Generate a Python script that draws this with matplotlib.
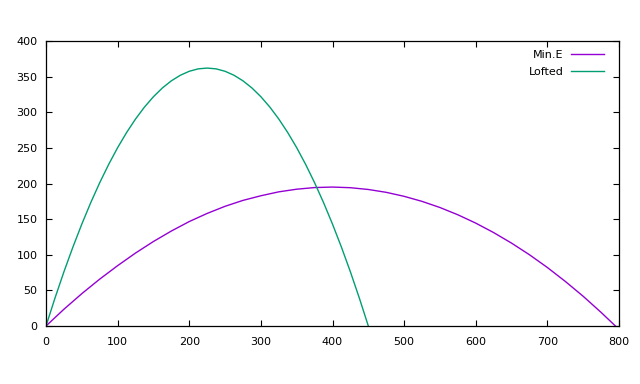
import matplotlib
matplotlib.use("Agg")
import matplotlib.pyplot as plt

# Min.E trajectory
mine_x = [0, 25, 50, 75, 100, 125, 150, 175, 200, 225, 250, 275, 300, 325, 350, 375,
          400, 425, 450, 475, 500, 525, 550, 575, 600, 625, 650, 675, 700, 725, 750, 775, 795]
mine_y = [0, 23.5, 45.4, 65.8, 84.7, 102.4, 118.6, 133.3, 146.6, 158.0, 168.0, 176.3, 182.8,
          188.3, 192.0, 194.3, 195.0, 194.1, 191.6, 187.6, 182.0, 174.9, 166.3, 156.1, 144.4,
          131.1, 116.3, 100.0, 82.1, 62.6, 41.7, 19.1, 0]

# Lofted trajectory
lofted_x = [0, 12.5, 25, 37.5, 50, 62.5, 75, 87.5, 100, 112.5, 125, 137.5, 150, 162.5, 175,
            187.5, 200, 212.5, 225, 237.5, 250, 262.5, 275, 287.5, 300, 312.5, 325, 337.5,
            350, 362.5, 375, 387.5, 400, 412.5, 425, 437.5, 450]
lofted_y = [0, 39.1, 76.0, 110.6, 143.0, 173.2, 201.1, 226.8, 250.3, 271.5, 290.5, 307.3,
            321.8, 334.1, 344.1, 351.9, 357.5, 360.9, 362.0, 360.9, 357.5, 351.9, 344.1,
            334.1, 321.8, 307.3, 290.5, 271.5, 250.3, 226.8, 201.1, 173.2, 143.0, 110.6,
            76.0, 39.1, 0]

xticks = [0, 100, 200, 300, 400, 500, 600, 700, 800]
yticks = [0, 50, 100, 150, 200, 250, 300, 350, 400]

plt.rcParams['font.family'] = ['DejaVu Sans']
fig = plt.figure(figsize=(6.4, 3.84), dpi=100)
ax = fig.add_axes([46/640, 1-326/384, (619-46)/640, (326-41)/384])

ax.plot(mine_x, mine_y, color='#9400d3', lw=1.0, label='Min.E')
ax.plot(lofted_x, lofted_y, color='#009e73', lw=1.0, label='Lofted')

ax.set_xlim(0, 800)
ax.set_ylim(0, 400)
ax.set_xticks(xticks)
ax.set_yticks(yticks)
ax.tick_params(direction='in', length=4.5, width=0.8, top=True, right=True,
               labelsize=8, colors='black')
ax.tick_params(axis='y', pad=6)
ax.tick_params(axis='x', pad=8)
for s in ax.spines.values():
    s.set_linewidth(0.9)

leg = ax.legend(loc='upper right', frameon=False, markerfirst=False, fontsize=8,
                handlelength=3.0, handletextpad=0.7, labelspacing=0.62,
                borderaxespad=0.4, bbox_to_anchor=(0.99, 1.0))
for t in leg.get_texts():
    t.set_ha('right')

fig.savefig('out.png', dpi=100)
